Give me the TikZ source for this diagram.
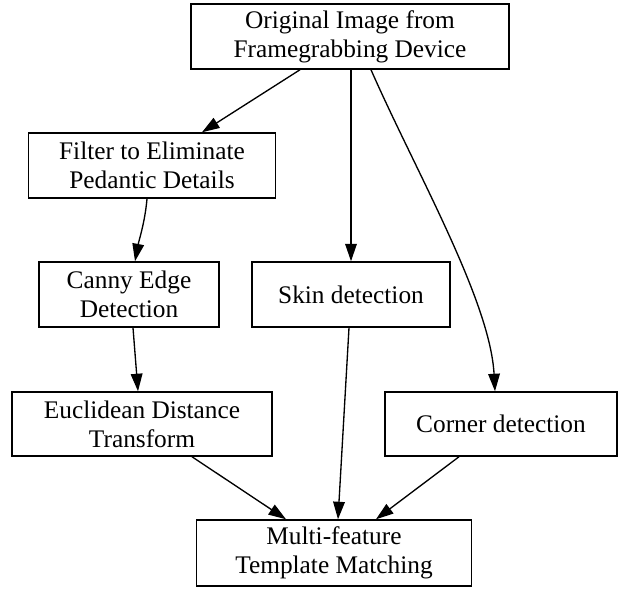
\documentclass[tikz,border=0pt]{standalone}
\usepackage{fontspec}
\setmainfont{Liberation Serif}
\usetikzlibrary{arrows.meta}
\begin{document}
\begin{tikzpicture}[x=0.6pt,y=-0.6pt,
  box/.style={draw,line width=0.9pt,rectangle,align=center,inner sep=0pt,
    font=\fontsize{15.2pt}{17.2pt}\selectfont},
  arr/.style={line width=0.8pt,-{Triangle[length=10.5pt,width=7pt]}}]
\useasboundingbox (0,0) rectangle (618,588);
\node[box,minimum width=190.8pt,minimum height=39pt] (o) at (350,36.5) {Original Image from\\Framegrabbing Device};
\node[box,minimum width=148.2pt,minimum height=39pt] (f) at (152,165.5) {Filter to Eliminate\\Pedantic Details};
\node[box,minimum width=108pt,minimum height=39pt] (c) at (129,294.5) {Canny Edge\\Detection};
\node[box,minimum width=118.8pt,minimum height=39pt] (s) at (351,294.5) {Skin detection};
\node[box,minimum width=156pt,minimum height=38.4pt] (e) at (142,424) {Euclidean Distance\\Transform};
\node[box,minimum width=139.2pt,minimum height=38.4pt] (k) at (501,424) {Corner detection};
\node[box,minimum width=165pt,minimum height=39.6pt] (m) at (334,553) {Multi-feature\\Template Matching};
\draw[arr] (300,0 |- o.south) -- (202,0 |- f.north);
\draw[arr] (351,0 |- o.south) -- (351,0 |- s.north);
\draw[arr] (371,0 |- o.south) .. controls (415,170) and (490,300) .. (495,0 |- k.north);
\draw[arr] (147,0 |- f.south) .. controls (145,222) and (139,240) .. (135,0 |- c.north);
\draw[arr] (133,0 |- c.south) -- (138,0 |- e.north);
\draw[arr] (349,0 |- s.south) -- (338,0 |- m.north);
\draw[arr] (192,0 |- e.south) -- (286,0 |- m.north);
\draw[arr] (459,0 |- k.south) -- (376,0 |- m.north);
\end{tikzpicture}
\end{document}
